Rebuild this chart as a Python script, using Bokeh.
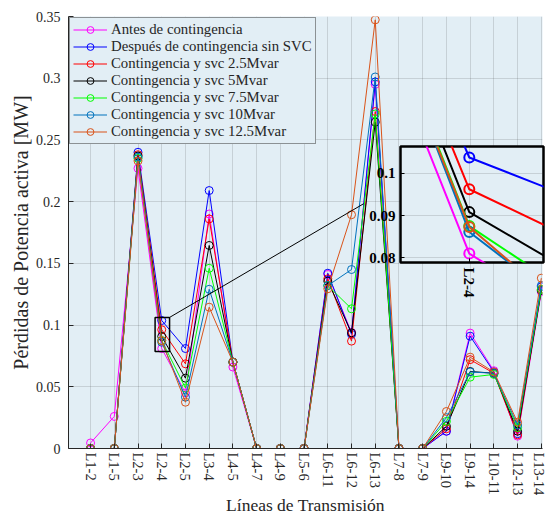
from bokeh.plotting import figure
from bokeh.models import Range1d, FixedTicker, CustomJSTickFormatter
from bokeh.embed import file_html
from bokeh.resources import INLINE

# ---------------- data ----------------
lineas = ["L1-2", "L1-5", "L2-3", "L2-4", "L2-5", "L3-4", "L4-5", "L4-7", "L4-9", "L5-6",
          "L6-11", "L6-12", "L6-13", "L7-8", "L7-9", "L9-10", "L9-14", "L10-11", "L12-13", "L13-14"]

antes = [0.0045, 0.026, 0.227, 0.081, 0.045, 0.190, 0.066, 0, 0, 0,
         0.141, 0.094, 0.295, 0, 0, 0.014, 0.0935, 0.063, 0.010, 0.127]
despues = [0, 0, 0.240, 0.1037, 0.081, 0.209, 0.070, 0, 0, 0,
           0.142, 0.0925, 0.297, 0, 0, 0.014, 0.091, 0.062, 0.012, 0.131]
svc_2_5 = [0, 0, 0.238, 0.0962, 0.0686, 0.186, 0.070, 0, 0, 0,
           0.1375, 0.087, 0.273, 0, 0, 0.016, 0.072, 0.061, 0.011, 0.129]
svc_5 = [0, 0, 0.237, 0.0908, 0.057, 0.1645, 0.070, 0, 0, 0,
         0.1356, 0.0937, 0.2644, 0, 0, 0.018, 0.0624, 0.061, 0.014, 0.128]
svc_7_5 = [0, 0, 0.235, 0.0875, 0.049, 0.146, 0.070, 0, 0, 0,
           0.132, 0.1132, 0.271, 0, 0, 0.022, 0.0578, 0.060, 0.017, 0.129]
svc_10 = [0, 0, 0.236, 0.0861, 0.0416, 0.129, 0.070, 0, 0, 0,
          0.132, 0.145, 0.301, 0, 0, 0.025, 0.062, 0.061, 0.019, 0.132]
svc_12_5 = [0, 0, 0.233, 0.0873, 0.0375, 0.1145, 0.070, 0, 0, 0,
            0.1294, 0.1894, 0.3473, 0, 0, 0.030, 0.074, 0.062, 0.0213, 0.138]

nombres = ["Antes de contingencia", "Después de contingencia sin SVC",
           "Contingencia y svc 2.5Mvar", "Contingencia y svc 5Mvar",
           "Contingencia y svc 7.5Mvar", "Contingencia y svc 10Mvar",
           "Contingencia y svc 12.5Mvar"]
valores = [antes, despues, svc_2_5, svc_5, svc_7_5, svc_10, svc_12_5]
colores = ["#ff00ff", "#0000ff", "#ff0000", "#000000", "#00ff00", "#0072bd", "#d95319"]

y_ticks = [0, 0.05, 0.1, 0.15, 0.2, 0.25, 0.3, 0.35]
inset_y_ticks = [0.08, 0.09, 0.1]

x = list(range(1, len(lineas) + 1))

FONT = "Liberation Serif"
BG = "#e2eef5"
AX = "#262626"

# ---------------- main figure ----------------
p = figure(width=546, height=518, output_backend="svg", toolbar_location=None,
           x_range=Range1d(0.07, 20.05), y_range=Range1d(0, 0.35),
           min_border_left=68, min_border_right=4, min_border_top=16, min_border_bottom=70,
           background_fill_color=BG, border_fill_color="white",
           outline_line_color=None)

for nombre, vals, col in zip(nombres, valores, colores):
    p.line(x, vals, line_color=col, line_width=1, legend_label=nombre)
    p.scatter(x, vals, marker="circle", size=8, fill_color=None, line_color=col,
              line_width=1, legend_label=nombre)

# zoom rectangle and connector
p.quad(left=3.72, right=4.33, bottom=0.0786, top=0.1062, fill_color=None,
       line_color="black", line_width=1.5)
p.line([4.33, 12.51], [0.1062, 0.1983], line_color="black", line_width=1)

p.xaxis.ticker = FixedTicker(ticks=x)
p.xaxis.major_label_overrides = {i: lab for i, lab in zip(x, lineas)}
p.xaxis.major_label_orientation = "vertical"
p.yaxis.ticker = FixedTicker(ticks=y_ticks)
p.yaxis.formatter = CustomJSTickFormatter(code="return String(Math.round(tick*100)/100)")

for ax in (p.xaxis[0], p.yaxis[0]):
    ax.axis_line_color = AX
    ax.major_tick_line_color = AX
    ax.major_tick_in = 5
    ax.major_tick_out = 0
    ax.minor_tick_line_color = None
    ax.major_label_text_font = FONT
    ax.major_label_text_color = AX
    ax.axis_label_text_font = FONT
    ax.axis_label_text_font_style = "normal"
    ax.axis_label_text_color = AX

p.xaxis.major_label_text_font_size = "14.5px"
p.yaxis.major_label_text_font_size = "14px"
p.xaxis.major_label_standoff = 4
p.yaxis.major_label_standoff = 8
p.xaxis.axis_label = "Líneas de Transmisión"
p.yaxis.axis_label = "Pérdidas de Potencia activa [MW]"
p.xaxis.axis_label_text_font_size = "17.5px"
p.yaxis.axis_label_text_font_size = "20px"
p.xaxis.axis_label_standoff = -3
p.yaxis.axis_label_standoff = 1

p.xgrid.ticker = FixedTicker(ticks=x)
p.ygrid.ticker = FixedTicker(ticks=y_ticks)
p.grid.grid_line_color = "#26262b"
p.grid.grid_line_alpha = 0.15

lg = p.legend[0]
lg.location = "top_left"
lg.margin = 1
lg.padding = 3
lg.spacing = 0
lg.label_height = 17
lg.glyph_height = 17
lg.glyph_width = 34
lg.label_standoff = 4
lg.label_text_font = FONT
lg.label_text_font_size = "14.8px"
lg.label_text_color = AX
lg.background_fill_color = BG
lg.background_fill_alpha = 1
lg.border_line_color = "#333333"
lg.border_line_width = 1

# ---------------- inset (zoom) ----------------
q = figure(width=186, height=158, output_backend="svg", toolbar_location=None,
           x_range=Range1d(3.72, 4.302), y_range=Range1d(0.0789, 0.1063),
           min_border_left=40, min_border_right=3, min_border_top=2, min_border_bottom=40,
           background_fill_color=BG, border_fill_color=None,
           outline_line_color="black", outline_line_width=2.5)
q.styles = {"position": "absolute", "left": "360px", "top": "144px"}

for vals, col in zip(valores, colores):
    q.line(x, vals, line_color=col, line_width=2)
    q.scatter(x, vals, marker="circle", size=10, fill_color=None, line_color=col, line_width=2)

q.xaxis.ticker = FixedTicker(ticks=x)
q.xaxis.major_label_overrides = {i: lab for i, lab in zip(x, lineas)}
q.xaxis.major_label_orientation = "vertical"
q.yaxis.ticker = FixedTicker(ticks=inset_y_ticks)
q.yaxis.formatter = CustomJSTickFormatter(code="return String(Math.round(tick*100)/100)")
for ax in (q.xaxis[0], q.yaxis[0]):
    ax.axis_line_color = None
    ax.major_tick_line_color = "black"
    ax.major_tick_in = 4
    ax.major_tick_out = 0
    ax.minor_tick_line_color = None
    ax.major_label_text_font = FONT
    ax.major_label_text_font_style = "bold"
    ax.major_label_text_font_size = "15px"
    ax.major_label_text_color = "black"
    ax.major_label_standoff = 5
q.xgrid.ticker = FixedTicker(ticks=x)
q.ygrid.ticker = FixedTicker(ticks=inset_y_ticks)
q.grid.grid_line_color = "#26262b"
q.grid.grid_line_alpha = 0.15

open("out.html", "w").write(file_html([p, q], INLINE))
